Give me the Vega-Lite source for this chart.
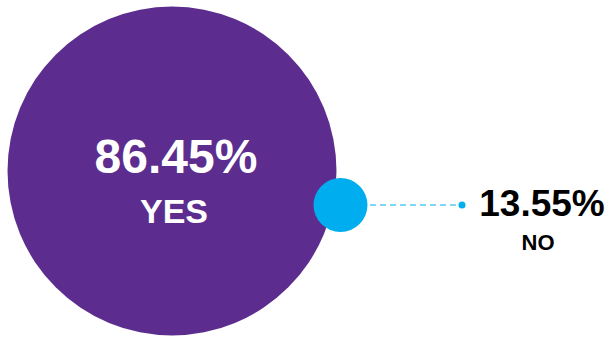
{
  "$schema": "https://vega.github.io/schema/vega-lite/v6.json",
  "width": 607,
  "height": 337,
  "padding": 0,
  "autosize": {"type": "none"},
  "background": "white",
  "view": {"stroke": null},
  "config": {"font": "Liberation Sans"},
  "data": {"values": [
    {"answer": "YES", "pct": 86.45},
    {"answer": "NO", "pct": 13.55}
  ]},
  "transform": [
    {"calculate": "format(datum.pct, '.2f') + '%'", "as": "pct_label"}
  ],
  "layer": [
    {
      "mark": {"type": "circle", "opacity": 1},
      "encoding": {
        "x": {"field": "answer", "type": "nominal", "scale": {"type": "point", "domain": ["YES", "NO"], "range": [172, 340.5], "padding": 0}, "axis": null},
        "y": {"field": "answer", "type": "nominal", "scale": {"type": "point", "domain": ["YES", "NO"], "range": [171, 205], "padding": 0}, "axis": null},
        "size": {"field": "pct", "type": "quantitative", "scale": {"domain": [13.55, 86.45], "range": [2916, 108241]}, "legend": null},
        "color": {"field": "answer", "type": "nominal", "scale": {"domain": ["YES", "NO"], "range": ["#5C2D8E", "#00AEEF"]}, "legend": null}
      }
    },
    {
      "transform": [{"filter": "datum.answer === 'NO'"}],
      "mark": {"type": "rule", "strokeDash": [6, 4], "strokeWidth": 1.2, "color": "#00AEEF"},
      "encoding": {
        "x": {"field": "answer", "type": "nominal", "scale": {"type": "point", "domain": ["YES", "NO"], "range": [462, 370], "padding": 0}, "axis": null},
        "x2": {"datum": "YES"},
        "y": {"field": "answer", "type": "nominal", "scale": {"type": "point", "domain": ["YES", "NO"], "range": [171, 205], "padding": 0}, "axis": null}
      }
    },
    {
      "transform": [{"filter": "datum.answer === 'NO'"}],
      "mark": {"type": "circle", "opacity": 1, "size": 49, "color": "#00AEEF"},
      "encoding": {
        "x": {"datum": "YES", "type": "nominal", "scale": {"type": "point", "domain": ["YES", "NO"], "range": [462, 370], "padding": 0}, "axis": null},
        "y": {"field": "answer", "type": "nominal", "scale": {"type": "point", "domain": ["YES", "NO"], "range": [171, 205], "padding": 0}, "axis": null}
      }
    },
    {
      "mark": {"type": "text", "fontWeight": "bold", "align": "center", "baseline": "alphabetic"},
      "encoding": {
        "x": {"field": "answer", "type": "nominal", "scale": {"type": "point", "domain": ["YES", "NO"], "range": [176, 542], "padding": 0}, "axis": null},
        "y": {"field": "answer", "type": "nominal", "scale": {"type": "point", "domain": ["YES", "NO"], "range": [173, 216], "padding": 0}, "axis": null},
        "text": {"field": "pct_label", "type": "nominal"},
        "size": {"field": "answer", "type": "nominal", "scale": {"domain": ["YES", "NO"], "range": [48, 37]}, "legend": null},
        "color": {"field": "answer", "type": "nominal", "scale": {"domain": ["YES", "NO"], "range": ["#FFFFFF", "#000000"]}, "legend": null}
      }
    },
    {
      "mark": {"type": "text", "fontWeight": "bold", "align": "center", "baseline": "alphabetic"},
      "encoding": {
        "x": {"field": "answer", "type": "nominal", "scale": {"type": "point", "domain": ["YES", "NO"], "range": [174, 538], "padding": 0}, "axis": null},
        "y": {"field": "answer", "type": "nominal", "scale": {"type": "point", "domain": ["YES", "NO"], "range": [223, 250], "padding": 0}, "axis": null},
        "text": {"field": "answer", "type": "nominal"},
        "size": {"field": "answer", "type": "nominal", "scale": {"domain": ["YES", "NO"], "range": [34, 22]}, "legend": null},
        "color": {"field": "answer", "type": "nominal", "scale": {"domain": ["YES", "NO"], "range": ["#FFFFFF", "#000000"]}, "legend": null}
      }
    }
  ],
  "resolve": {"scale": {"x": "independent", "y": "independent", "size": "independent", "color": "independent"}}
}
